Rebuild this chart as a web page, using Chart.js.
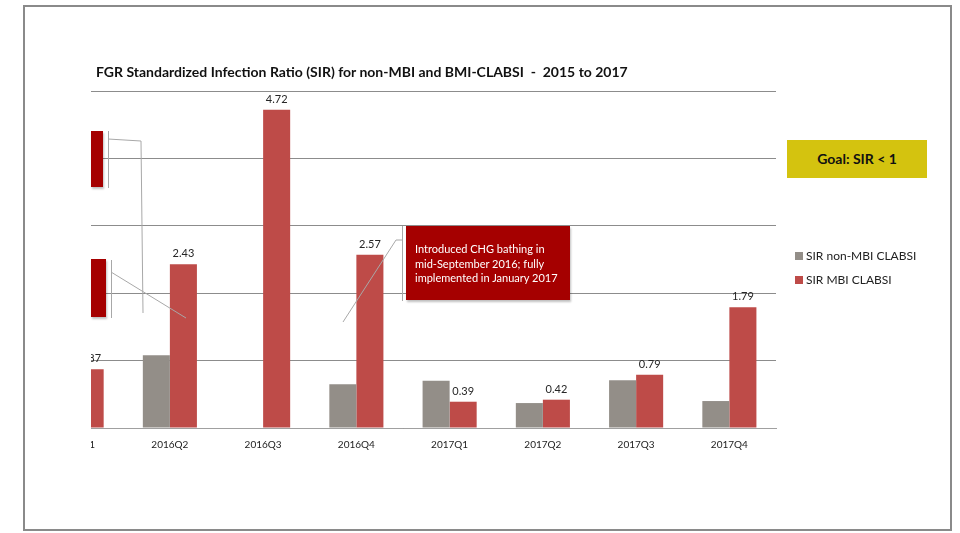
<!DOCTYPE html>
<html>
<head>
<meta charset="utf-8">
<script src="https://cdn.jsdelivr.net/npm/chart.js@4.4.1/dist/chart.umd.min.js"></script>
<style>
    html, body { margin: 0; padding: 0; background: #fff; }
    body { width: 960px; height: 533px; position: relative; overflow: hidden; font-family: Lato, "Open Sans", sans-serif; }
    #chart { position: absolute; left: 0; top: 0; }
    .frame { position: absolute; left: 23px; top: 5px; width: 925px; height: 522px; border: 2px solid #8a8a8a; pointer-events: none; }
    .mask { position: absolute; left: 25px; top: 84px; width: 66px; height: 376px; background: #fff; }
    .title { position: absolute; left: 96px; top: 63px; font-weight: bold; font-size: 14px; color: #111; white-space: pre; }
    .goal { position: absolute; left: 787px; top: 140px; width: 140px; height: 38px; background: #d4c30f; color: #111;
            font-weight: bold; font-size: 14px; line-height: 38px; text-align: center; }
    .legend { position: absolute; left: 795px; top: 248px; font-size: 12px; color: #222; }
    .legend div { height: 24px; line-height: 16px; white-space: nowrap; }
    .legend span { display: inline-block; width: 8px; height: 8px; margin-right: 3px; vertical-align: 0px; }
    .callout { position: absolute; background: #a50000; box-shadow: 1px 2px 2px rgba(0,0,0,0.25); }
    .note { left: 406px; top: 226px; width: 164px; height: 74px; color: #fff; font-size: 11px; line-height: 14.5px;
            box-sizing: border-box; padding: 16px 0 0 9px; }
    svg { position: absolute; left: 0; top: 0; }
</style>
</head>
<body>
<canvas id="chart" width="960" height="533"></canvas>
<div class="mask"></div>
<div class="title">FGR Standardized Infection Ratio (SIR) for non-MBI and BMI-CLABSI  -  2015 to 2017</div>
<div class="goal">Goal: SIR &lt; 1</div>
<div class="legend" id="legend"></div>

<!-- Reste von Callouts, die links abgeschnitten sind -->
<div class="callout" style="left:91px;top:131px;width:12px;height:56px;"></div>
<div class="callout" style="left:91px;top:259px;width:15px;height:58px;"></div>
<div class="callout note">Introduced CHG bathing in<br>mid-September 2016; fully<br>implemented in January 2017</div>

<svg width="960" height="533">
    <g stroke="#a8a8a8" stroke-width="1" fill="none">
        <line x1="108.5" y1="131" x2="108.5" y2="188"/>
        <polyline points="108,139 141,141 143,313"/>
        <line x1="111.5" y1="260" x2="111.5" y2="318"/>
        <line x1="111" y1="272" x2="186" y2="318"/>
        <line x1="402.5" y1="226" x2="402.5" y2="301"/>
        <polyline points="402,240 396,240 343,322"/>
    </g>
</svg>
<div class="frame"></div>

<script>
// Daten aus dem Diagramm
const categories = ['2016Q1', '2016Q2', '2016Q3', '2016Q4', '2017Q1', '2017Q2', '2017Q3', '2017Q4'];
const nonMbiSir = [null, 1.08, null, 0.65, 0.70, 0.37, 0.71, 0.40];
const mbiSir = [0.87, 2.43, 4.72, 2.57, 0.39, 0.42, 0.79, 1.79];
const seriesNames = ['SIR non-MBI CLABSI', 'SIR MBI CLABSI'];
const seriesColors = ['#938e88', '#be4b48'];
const yTicks = [0, 1, 2, 3, 4, 5];

// Werte über den roten Balken
const valueLabels = {
    id: 'valueLabels',
    afterDatasetsDraw(chart) {
        const ctx = chart.ctx;
        const meta = chart.getDatasetMeta(1);
        ctx.save();
        ctx.font = '11px Lato, sans-serif';
        ctx.fillStyle = '#262626';
        ctx.textAlign = 'center';
        ctx.textBaseline = 'bottom';
        meta.data.forEach((bar, i) => {
            ctx.fillText(mbiSir[i].toFixed(2), bar.x, bar.y - 5);
        });
        ctx.restore();
    }
};

const chart = new Chart(document.getElementById('chart'), {
    type: 'bar',
    data: {
        labels: categories,
        datasets: [
            { label: seriesNames[0], data: nonMbiSir, backgroundColor: seriesColors[0] },
            { label: seriesNames[1], data: mbiSir, backgroundColor: seriesColors[1] }
        ]
    },
    options: {
        responsive: false,
        animation: false,
        layout: { padding: { left: 30, right: 184, top: 91, bottom: 71 } },
        datasets: { bar: { categoryPercentage: 0.58, barPercentage: 1 } },
        plugins: { legend: { display: false }, tooltip: { enabled: false } },
        scales: {
            x: {
                grid: { display: false, drawTicks: false },
                border: { color: '#a0a0a0' },
                ticks: { color: '#222', font: { size: 10, family: 'Lato' }, padding: 11 }
            },
            y: {
                min: yTicks[0],
                max: yTicks[yTicks.length - 1],
                afterBuildTicks: axis => { axis.ticks = yTicks.map(v => ({ value: v })); },
                grid: { color: '#8c8c8c', drawTicks: false },
                border: { display: false },
                ticks: { display: false }
            }
        }
    },
    plugins: [valueLabels]
});

// Legende aus den Datensätzen
const legend = document.getElementById('legend');
chart.data.datasets.forEach(ds => {
    const row = document.createElement('div');
    row.innerHTML = `<span style="background:${ds.backgroundColor}"></span>${ds.label}`;
    legend.appendChild(row);
});
</script>
</body>
</html>
